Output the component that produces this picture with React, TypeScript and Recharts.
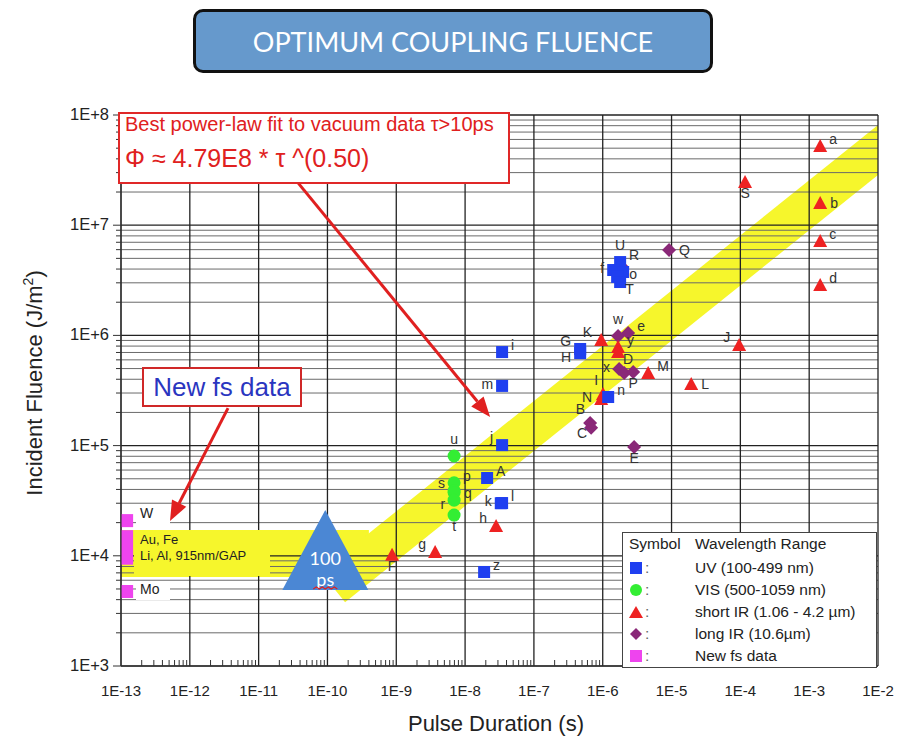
import React from "react";
import {
  CartesianGrid,
  ComposedChart,
  ReferenceArea,
  ReferenceDot,
  ReferenceLine,
  Scatter,
  XAxis,
  YAxis,
} from "recharts";

// axes (log decades)
const xDecades = [1e-13, 1e-12, 1e-11, 1e-10, 1e-9, 1e-8, 1e-7, 1e-6, 1e-5, 1e-4, 1e-3, 1e-2];
const xTickLabels = ["1E-13", "1E-12", "1E-11", "1E-10", "1E-9", "1E-8", "1E-7", "1E-6", "1E-5", "1E-4", "1E-3", "1E-2"];
const yDecades = [1e3, 1e4, 1e5, 1e6, 1e7, 1e8];
const yTickLabels = ["1E+3", "1E+4", "1E+5", "1E+6", "1E+7", "1E+8"];
const minorSteps = [2, 3, 4, 5, 6, 7, 8, 9];

// UV (100-499 nm)
const uvPoints = [
  { x: 3.45e-8, y: 7.06e5, label: "i" },
  { x: 3.45e-8, y: 3.48e5, label: "m" },
  { x: 3.45e-8, y: 1.01e5, label: "j" },
  { x: 2.09e-8, y: 5.08e4, label: "A" },
  { x: 3.3e-8, y: 3.0e4, label: "k" },
  { x: 3.45e-8, y: 3.01e4, label: "l" },
  { x: 1.89e-8, y: 7.13e3, label: "z" },
  { x: 4.7e-7, y: 7.53e5, label: "G" },
  { x: 4.7e-7, y: 6.92e5, label: "H" },
  { x: 1.2e-6, y: 2.76e5, label: "n" },
  { x: 1.79e-6, y: 4.63e6, label: "U" },
  { x: 1.42e-6, y: 3.92e6, label: "f" },
  { x: 1.98e-6, y: 3.76e6, label: "o" },
  { x: 1.62e-6, y: 3.39e6, label: "" },
  { x: 1.79e-6, y: 3.05e6, label: "T" },
];

// VIS (500-1059 nm)
const visPoints = [
  { x: 6.92e-9, y: 8.05e4, label: "u" },
  { x: 6.92e-9, y: 4.6e4, label: "p" },
  { x: 6.92e-9, y: 3.9e4, label: "s" },
  { x: 6.92e-9, y: 3.75e4, label: "q" },
  { x: 6.92e-9, y: 3.2e4, label: "r" },
  { x: 6.92e-9, y: 2.34e4, label: "t" },
];

// short IR (1.06 - 4.2 um)
const shortIrPoints = [
  { x: 1.445e-3, y: 5.24e7, label: "a" },
  { x: 1.445e-3, y: 1.59e7, label: "b" },
  { x: 1.445e-3, y: 7.2e6, label: "c" },
  { x: 1.445e-3, y: 2.86e6, label: "d" },
  { x: 1.17e-4, y: 2.47e7, label: "S" },
  { x: 9.6e-5, y: 8.18e5, label: "J" },
  { x: 9.5e-7, y: 9.08e5, label: "K" },
  { x: 1.67e-6, y: 7.85e5, label: "y" },
  { x: 1.67e-6, y: 7.06e5, label: "D" },
  { x: 4.57e-6, y: 4.56e5, label: "M" },
  { x: 1.93e-5, y: 3.62e5, label: "L" },
  { x: 1.01e-6, y: 2.94e5, label: "I" },
  { x: 9.5e-7, y: 2.65e5, label: "N" },
  { x: 2.82e-8, y: 1.86e4, label: "h" },
  { x: 3.67e-9, y: 1.08e4, label: "g" },
  { x: 8.69e-10, y: 1.02e4, label: "F" },
];

// long IR (10.6 um)
const longIrPoints = [
  { x: 9.2e-6, y: 5.96e6, label: "Q" },
  { x: 1.91e-6, y: 4.18e6, label: "R" },
  { x: 1.67e-6, y: 9.89e5, label: "w" },
  { x: 2.34e-6, y: 1.05e6, label: "e" },
  { x: 1.73e-6, y: 4.96e5, label: "x" },
  { x: 2.05e-6, y: 4.56e5, label: "" },
  { x: 2.77e-6, y: 4.66e5, label: "P" },
  { x: 6.56e-7, y: 1.6e5, label: "B" },
  { x: 6.78e-7, y: 1.45e5, label: "C" },
  { x: 2.86e-6, y: 9.7e4, label: "E" },
];

// new fs data (ranges)
const fsRanges = [
  { x1: 1e-13, x2: 1.5e-13, y1: 1.82e4, y2: 2.39e4 },
  { x1: 1e-13, x2: 1.5e-13, y1: 8.3e3, y2: 1.71e4 },
  { x1: 1e-13, x2: 1.5e-13, y1: 4.14e3, y2: 5.43e3 },
];

// yellow guide band
const bandDiag = [
  { x: 1.2e-10, y: 5.2e3 },
  { x: 2e-2, y: 6.8e7 },
];
const bandFlat = [
  { x: 1e-13, y: 1.05e4 },
  { x: 4e-10, y: 1.05e4 },
];

// annotation arrows
const fitArrow = [
  { x: 3.74e-11, y: 2.42e7 },
  { x: 2.31e-8, y: 1.82e5 },
];
const fsArrow = [
  { x: 3.59e-12, y: 2.19e5 },
  { x: 5.15e-13, y: 2.07e4 },
];

const xMinor = xDecades.slice(0, -1).flatMap((d) => minorSteps.map((m) => m * d));
const yMinor = yDecades.slice(0, -1).flatMap((d) => minorSteps.map((m) => m * d));
const xAllTicks = [...xDecades, ...xMinor].sort((a, b) => a - b);
const yAllTicks = [...yDecades, ...yMinor].sort((a, b) => a - b);

const FONT = "'Liberation Sans', Arial, Helvetica, sans-serif";
const BLUE = "#1f3ff0";
const GREEN = "#33ee33";
const RED = "#ee2222";
const PURPLE = "#8a2878";
const PINK = "#ee44ee";

const decadeIndex = (v: number, list: number[]) =>
  list.findIndex((d) => Math.abs(Math.log10(d) - Math.log10(v)) < 1e-6);

function XTick(props: any) {
  const { x, y, payload } = props;
  const i = decadeIndex(payload.value, xDecades);
  if (i < 0) return <line x1={x} x2={x} y1={y} y2={y - 6} stroke="#333" strokeWidth={1} />;
  return (
    <text x={x} y={y + 30} textAnchor="middle" fontSize={15} fontFamily={FONT} fill="#222">
      {xTickLabels[i]}
    </text>
  );
}

function YTick(props: any) {
  const { x, y, payload } = props;
  const i = decadeIndex(payload.value, yDecades);
  if (i < 0) return <line x1={x} x2={x - 5} y1={y} y2={y} stroke="#333" strokeWidth={1} />;
  return (
    <g>
      <line x1={x} x2={x - 8} y1={y} y2={y} stroke="#333" strokeWidth={1} />
      <text x={x - 12} y={y + 5} textAnchor="end" fontSize={16.5} fontFamily={FONT} fill="#222">
        {yTickLabels[i]}
      </text>
    </g>
  );
}

// where each letter sits relative to its marker
const labelSide: Record<string, string> = {
  i: "tr", m: "l", j: "tl", A: "tr", k: "l", l: "tr", z: "tr", G: "tl", H: "bl", n: "tr",
  U: "t", f: "l", o: "in", T: "br",
  u: "t", p: "tr", s: "tl", q: "r", r: "bl",
  t: "b",
  a: "tr", b: "r", c: "tr", d: "tr", S: "b", J: "tl", K: "tl", y: "tr", D: "br", M: "tr",
  L: "r", I: "ul", N: "l", h: "tl", g: "tl", F: "b",
  Q: "r", R: "hi", w: "t", e: "tr", x: "l", P: "b", B: "ul", C: "dl", E: "b",
};
const sideOffset: Record<string, [number, number, string]> = {
  r: [10, 5, "start"],
  l: [-9, 3, "end"],
  t: [0, -12, "middle"],
  b: [0, 16, "middle"],
  tr: [9, -2, "start"],
  tl: [-9, -3, "end"],
  br: [5, 12, "start"],
  bl: [-9, 9, "end"],
  ul: [-5, -9, "end"],
  dl: [-4, 10, "end"],
  hi: [7, -7, "start"],
  in: [6, 7, "start"],
};

function PointLabel({ cx, cy, label }: { cx: number; cy: number; label: string }) {
  if (!label) return null;
  const [dx, dy, anchor] = sideOffset[labelSide[label] || "r"];
  return (
    <text x={cx + dx} y={cy + dy} textAnchor={anchor as any} fontSize={14} fontFamily={FONT} fill="#333">
      {label}
    </text>
  );
}

const squareShape = (p: any) => (
  <g>
    <rect x={p.cx - 6} y={p.cy - 6} width={12} height={12} fill={BLUE} />
    <PointLabel cx={p.cx} cy={p.cy} label={p.payload.label} />
  </g>
);
const circleShape = (p: any) => (
  <g>
    <circle cx={p.cx} cy={p.cy} r={6.5} fill={GREEN} />
    <PointLabel cx={p.cx} cy={p.cy} label={p.payload.label} />
  </g>
);
const triangleShape = (p: any) => (
  <g>
    <polygon
      points={`${p.cx},${p.cy - 7} ${p.cx - 7},${p.cy + 6} ${p.cx + 7},${p.cy + 6}`}
      fill={RED}
    />
    <PointLabel cx={p.cx} cy={p.cy} label={p.payload.label} />
  </g>
);
const diamondShape = (p: any) => (
  <g>
    <polygon
      points={`${p.cx},${p.cy - 7} ${p.cx + 7},${p.cy} ${p.cx},${p.cy + 7} ${p.cx - 7},${p.cy}`}
      fill={PURPLE}
    />
    <PointLabel cx={p.cx} cy={p.cy} label={p.payload.label} />
  </g>
);

function arrowShape(p: any) {
  const { x1, y1, x2, y2 } = p;
  const len = Math.hypot(x2 - x1, y2 - y1);
  const ux = (x2 - x1) / len;
  const uy = (y2 - y1) / len;
  const head = 20;
  const half = 8;
  const bx = x2 - ux * head;
  const by = y2 - uy * head;
  return (
    <g>
      <line x1={x1} y1={y1} x2={bx} y2={by} stroke="#e02020" strokeWidth={3} />
      <polygon
        points={`${x2},${y2} ${bx - uy * half},${by + ux * half} ${bx + uy * half},${by - ux * half}`}
        fill="#e02020"
      />
    </g>
  );
}

function PsTriangle(p: any) {
  const { cx, cy } = p;
  return (
    <g>
      <polygon points={`${cx},${cy - 40} ${cx - 43},${cy + 40} ${cx + 43},${cy + 40}`} fill="#4b87d4" />
      <text x={cx} y={cy + 15} textAnchor="middle" fontSize={18} fontFamily="Lato, sans-serif" fill="#fff">
        100
      </text>
      <text x={cx} y={cy + 36} textAnchor="middle" fontSize={18} fontFamily="Lato, sans-serif" fill="#fff">
        ps
      </text>
      <path
        d={`M${cx - 12},${cy + 39} l3,-2 l3,2 l3,-2 l3,2 l3,-2 l3,2 l3,-2 l3,2`}
        stroke="#e02020"
        strokeWidth={1.2}
        fill="none"
      />
    </g>
  );
}

const legendRows = [
  { kind: "square", color: BLUE, text: "UV (100-499 nm)" },
  { kind: "circle", color: GREEN, text: "VIS (500-1059 nm)" },
  { kind: "triangle", color: RED, text: "short IR (1.06 - 4.2 \u00b5m)" },
  { kind: "diamond", color: PURPLE, text: "long IR (10.6\u00b5m)" },
  { kind: "square", color: PINK, text: "New fs data" },
];

function LegendMarker({ kind, color }: { kind: string; color: string }) {
  return (
    <svg width={14} height={14} style={{ display: "block" }}>
      {kind === "square" && <rect x={1} y={1} width={12} height={12} fill={color} />}
      {kind === "circle" && <circle cx={7} cy={7} r={6} fill={color} />}
      {kind === "triangle" && <polygon points="7,1 0,13 14,13" fill={color} />}
      {kind === "diamond" && <polygon points="7,1 13,7 7,13 1,7" fill={color} />}
    </svg>
  );
}

export default function App() {
  return (
    <div style={{ position: "absolute", left: 0, top: 0, width: 899, height: 740, background: "#fff", fontFamily: FONT }}>
      <ComposedChart width={899} height={740} margin={{ top: 115, right: 21, bottom: 44, left: 61 }}>
        <XAxis
          dataKey="x"
          type="number"
          scale="log"
          domain={[1e-13, 1e-2]}
          allowDataOverflow
          ticks={xAllTicks}
          interval={0}
          tickSize={0}
          tickMargin={0}
          tickLine={false}
          tick={<XTick />}
          axisLine={{ stroke: "#333", strokeWidth: 1.2 }}
        />
        <YAxis
          dataKey="y"
          type="number"
          scale="log"
          domain={[1e3, 1e8]}
          allowDataOverflow
          ticks={yAllTicks}
          interval={0}
          tickSize={0}
          tickMargin={0}
          tickLine={false}
          tick={<YTick />}
          axisLine={{ stroke: "#333", strokeWidth: 1.2 }}
        />
        <Scatter
          data={bandFlat}
          line={{ stroke: "#f6f62c", strokeWidth: 47 }}
          shape={() => <g />}
          isAnimationActive={false}
          zIndex={-300}
        />
        <Scatter
          data={bandDiag}
          line={{ stroke: "#f6f62c", strokeWidth: 39 }}
          shape={() => <g />}
          isAnimationActive={false}
          zIndex={-300}
        />
        <CartesianGrid horizontalValues={yMinor} vertical={false} stroke="#6a6a6a" strokeWidth={1} />
        <CartesianGrid horizontalValues={yDecades} verticalValues={xDecades} stroke="#222" strokeWidth={1.3} />
        {fsRanges.map((r, i) => (
          <ReferenceArea key={i} x1={r.x1} x2={r.x2} y1={r.y1} y2={r.y2} fill={PINK} fillOpacity={1} stroke="none" />
        ))}
        <ReferenceDot x={9.3e-11} y={1.13e4} r={40} shape={PsTriangle} ifOverflow="visible" />
        <ReferenceLine segment={fitArrow} shape={arrowShape} ifOverflow="visible" />
        <ReferenceLine segment={fsArrow} shape={arrowShape} ifOverflow="visible" />
        <Scatter data={visPoints} shape={circleShape} isAnimationActive={false} />
        <Scatter data={longIrPoints} shape={diamondShape} isAnimationActive={false} />
        <Scatter data={shortIrPoints} shape={triangleShape} isAnimationActive={false} />
        <Scatter data={uvPoints} shape={squareShape} isAnimationActive={false} />
      </ComposedChart>

      {/* axis titles */}
      <svg width={899} height={740} style={{ position: "absolute", left: 0, top: 0, pointerEvents: "none" }}>
        <text x={496} y={731} textAnchor="middle" fontSize={22} fontFamily={FONT} fill="#222">
          Pulse Duration (s)
        </text>
        <text
          transform="translate(42,383) rotate(-90)"
          textAnchor="middle"
          fontSize={22}
          fontFamily={FONT}
          fill="#222"
        >
          Incident Fluence (J/m<tspan fontSize={14} dy={-9}>2</tspan>
          <tspan dy={9}>)</tspan>
        </text>
      </svg>

      {/* title */}
      <div
        style={{
          position: "absolute",
          left: 193,
          top: 9,
          width: 520,
          height: 64,
          boxSizing: "border-box",
          border: "3px solid #111",
          borderRadius: 10,
          background: "#6699cc",
          color: "#fff",
          fontFamily: "Lato, sans-serif",
          fontSize: 27,
          display: "flex",
          alignItems: "center",
          justifyContent: "center",
        }}
      >
        OPTIMUM COUPLING FLUENCE
      </div>

      {/* fit annotation */}
      <div
        style={{
          position: "absolute",
          left: 118,
          top: 112,
          width: 392,
          height: 72,
          boxSizing: "border-box",
          border: "2px solid #e02828",
          background: "#fff",
          color: "#e02020",
        }}
      >
        <div style={{ position: "absolute", left: 5, top: -1, fontSize: 20, whiteSpace: "nowrap" }}>
          Best power-law fit to vacuum data {"\u03c4"}&gt;10ps
        </div>
        <div style={{ position: "absolute", left: 5, top: 30, fontSize: 25, whiteSpace: "nowrap" }}>
          {"\u03a6 \u2248 4.79E8 * \u03c4 ^(0.50)"}
        </div>
      </div>

      {/* new fs data box */}
      <div
        style={{
          position: "absolute",
          left: 142,
          top: 367,
          width: 160,
          height: 40,
          boxSizing: "border-box",
          border: "2px solid #d02828",
          background: "#fff",
          color: "#2a35c0",
          fontSize: 26,
          display: "flex",
          alignItems: "center",
          justifyContent: "center",
        }}
      >
        New fs data
      </div>

      {/* fs labels */}
      <div style={{ position: "absolute", left: 136, top: 504, width: 34, height: 23, background: "#fff" }} />
      <div style={{ position: "absolute", left: 140, top: 505, fontSize: 14, color: "#222" }}>W</div>
      <div style={{ position: "absolute", left: 134, top: 530, width: 136, height: 46, background: "#f6f62c" }} />
      <div style={{ position: "absolute", left: 140, top: 532, fontSize: 13, color: "#222", lineHeight: "16px" }}>
        Au, Fe
        <br />
        Li, Al, 915nm/GAP
      </div>
      <div style={{ position: "absolute", left: 136, top: 581, width: 34, height: 19, background: "#fff" }} />
      <div style={{ position: "absolute", left: 140, top: 581, fontSize: 14, color: "#222" }}>Mo</div>

      {/* legend */}
      <div
        style={{
          position: "absolute",
          left: 622,
          top: 532,
          width: 255,
          height: 136,
          boxSizing: "border-box",
          border: "1.5px solid #444",
          background: "#fff",
          fontSize: 15.5,
          color: "#222",
        }}
      >
        <div style={{ position: "absolute", left: 6, top: 2 }}>Symbol</div>
        <div style={{ position: "absolute", left: 72, top: 2 }}>Wavelength Range</div>
        {legendRows.map((r, i) => (
          <div key={i} style={{ position: "absolute", left: 6, top: 25 + i * 22, height: 20, display: "flex", alignItems: "center" }}>
            <LegendMarker kind={r.kind} color={r.color} />
            <span style={{ marginLeft: 2, color: "#666" }}>:</span>
            <span style={{ position: "absolute", left: 66, whiteSpace: "nowrap" }}>{r.text}</span>
          </div>
        ))}
      </div>
    </div>
  );
}
